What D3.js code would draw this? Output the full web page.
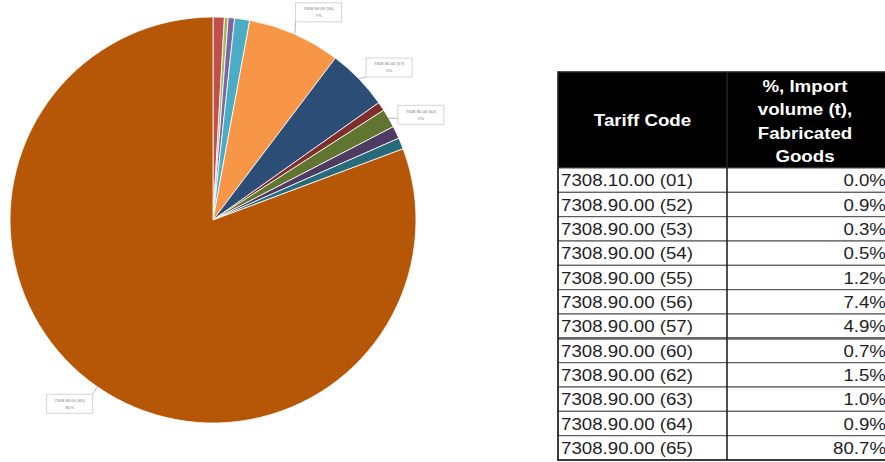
<!DOCTYPE html>
<html><head><meta charset="utf-8">
<script src="https://cdn.jsdelivr.net/npm/d3@7"></script>
<style>html,body{margin:0;padding:0;background:#fff;} svg{display:block;}</style>
</head><body>
<svg id="chart" width="885" height="462"></svg>
<script>
// ---- data ----
const tariffCodes = ["7308.10.00 (01)","7308.90.00 (52)","7308.90.00 (53)","7308.90.00 (54)","7308.90.00 (55)","7308.90.00 (56)","7308.90.00 (57)","7308.90.00 (60)","7308.90.00 (62)","7308.90.00 (63)","7308.90.00 (64)","7308.90.00 (65)"];
const importShares = [0.0, 0.9, 0.3, 0.5, 1.2, 7.4, 4.9, 0.7, 1.5, 1.0, 0.9, 80.7];
const sliceColors = ["#4F81BD","#C0504D","#9BBB59","#8064A2","#4BACC6","#F79646","#2C4D75","#7E2E2B","#5F7530","#4D3B62","#276A7C","#B65708"];
const labelledCodes = ["7308.90.00 (56)","7308.90.00 (57)","7308.90.00 (62)","7308.90.00 (65)"];
const headerCol1 = "Tariff Code";
const headerCol2 = ["%, Import","volume (t),","Fabricated","Goods"];

const rows = tariffCodes.map((c,i)=>({code:c, value:importShares[i], color:sliceColors[i]}));
const svg = d3.select("#chart");
const FONT = "'Liberation Sans', Arial, sans-serif";

// ---- pie ----
const cx = 213, cy = 220, R = 203;
const pie = d3.pie().sort(null).value(d=>d.value).startAngle(0).endAngle(2*Math.PI);
const arc = d3.arc().innerRadius(0).outerRadius(R);
const arcs = pie(rows);
const gPie = svg.append("g").attr("transform",`translate(${cx},${cy})`);
gPie.selectAll("path").data(arcs).join("path")
  .attr("d", arc)
  .attr("fill", d=>d.data.color)
  .attr("stroke", "#fff")
  .attr("stroke-width", d=>d.data.value>0?0.8:0);

// ---- data labels ----
const pct = d3.format(".0%");
const bw = 46, bh = 19, labR = 233, labShift = 0.056;
const gLab = gPie.append("g");
arcs.filter(d=>labelledCodes.includes(d.data.code)).forEach(d=>{
  const a = (d.startAngle+d.endAngle)/2;
  const px = R*Math.sin(a), py = -R*Math.cos(a);
  const la = a + labShift;
  const bx = labR*Math.sin(la), by = -labR*Math.cos(la);
  const x0 = bx-bw/2, y0 = by-bh/2;
  const qx = Math.max(x0, Math.min(x0+bw, px)), qy = Math.max(y0, Math.min(y0+bh, py));
  gLab.append("line").attr("x1",px).attr("y1",py).attr("x2",qx).attr("y2",qy)
    .attr("stroke","#9aa6b4").attr("stroke-width",0.8);
  gLab.append("rect").attr("x",x0).attr("y",y0).attr("width",bw).attr("height",bh)
    .attr("fill","#fff").attr("stroke","#c8c8c8").attr("stroke-width",0.8);
  gLab.append("text").attr("x",bx).attr("y",by-2).attr("text-anchor","middle")
    .attr("font-family",FONT).attr("font-size",4.3).attr("fill","#777").text(d.data.code);
  gLab.append("text").attr("x",bx).attr("y",by+5).attr("text-anchor","middle")
    .attr("font-family",FONT).attr("font-size",4.3).attr("fill","#777").text(pct(d.data.value/100));
});

// ---- table ----
const tx0 = 558, tDiv = 727, tx1 = 890, hTop = 72, hBot = 168, tBot = 460;
const sx = 1.1;
const yRow = d3.scaleBand().domain(tariffCodes).range([hBot, tBot]);
const gT = svg.append("g");
gT.append("rect").attr("x",tx0).attr("y",hTop).attr("width",tx1-tx0).attr("height",hBot-hTop).attr("fill","#000");
gT.selectAll("rect.cell").data(rows).join("rect").attr("class","cell")
  .attr("x",tx0).attr("y",d=>yRow(d.code)).attr("width",tx1-tx0).attr("height",yRow.bandwidth())
  .attr("fill","#fff").attr("stroke","#555").attr("stroke-width",1.1);
// thicker separator after (57)
gT.append("line").attr("x1",tx0).attr("x2",tx1)
  .attr("y1",yRow(tariffCodes[7])).attr("y2",yRow(tariffCodes[7]))
  .attr("stroke","#666").attr("stroke-width",2.6);
gT.append("line").attr("x1",tDiv).attr("x2",tDiv).attr("y1",hTop).attr("y2",tBot)
  .attr("stroke","#222").attr("stroke-width",1.6);
gT.append("rect").attr("x",tx0).attr("y",hTop).attr("width",tx1-tx0).attr("height",tBot-hTop)
  .attr("fill","none").attr("stroke","#222").attr("stroke-width",1.6);

function stxt(g, x, y, txt, anchor, opts){
  return g.append("text").attr("transform",`translate(${x},${y}) scale(${sx},1)`)
    .attr("text-anchor",anchor).attr("font-family",FONT)
    .attr("font-size",opts.size).attr("font-weight",opts.weight||"normal")
    .attr("fill",opts.fill).text(txt);
}
stxt(gT, (tx0+tDiv)/2, (hTop+hBot)/2+6, headerCol1, "middle", {size:17, weight:"bold", fill:"#fff"});
const hLine = d3.scalePoint().domain(headerCol2).range([86,156]);
headerCol2.forEach(t=>stxt(gT, 805, hLine(t)+6, t, "middle", {size:17, weight:"bold", fill:"#fff"}));
rows.forEach(r=>{
  const yc = yRow(r.code)+yRow.bandwidth()/2+6;
  stxt(gT, 561, yc, r.code, "start", {size:17, fill:"#1e1e1e"});
  stxt(gT, 886, yc, r.value.toFixed(1)+"%", "end", {size:17, fill:"#1e1e1e"});
});
</script>
</body></html>
